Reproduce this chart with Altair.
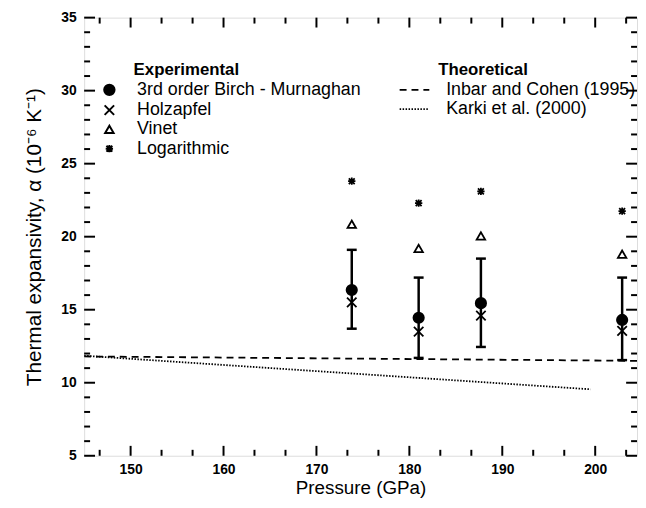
import altair as alt
import pandas as pd

# ---------------- data ----------------
pressure = [173.8, 181.0, 187.7, 202.9]
birch = [16.35, 14.45, 15.45, 14.3]
birch_hi = [19.1, 17.2, 18.5, 17.2]
birch_lo = [13.7, 11.7, 12.45, 11.55]
holzapfel = [15.5, 13.5, 14.6, 13.55]
vinet = [20.85, 19.2, 20.05, 18.8]
logarithmic = [23.8, 22.3, 23.1, 21.75]
methods = ["3rd order Birch - Murnaghan", "Holzapfel", "Vinet", "Logarithmic"]

inbar_p = [145, 204.5]
inbar_a = [11.8, 11.5]
karki_p = [145, 199.5]
karki_a = [11.85, 9.55]
models = ["Inbar and Cohen (1995)", "Karki et al. (2000)"]

headers = ["Experimental", "Theoretical"]

x_major = [150, 160, 170, 180, 190, 200]
x_minor = [146.67, 153.33, 156.67, 163.33, 166.67, 173.33, 176.67,
           183.33, 186.67, 193.33, 196.67, 203.33]
y_major = [5, 10, 15, 20, 25, 30, 35]
y_minor = [6, 7, 8, 9, 11, 12, 13, 14, 16, 17, 18, 19, 21, 22, 23, 24,
           26, 27, 28, 29, 31, 32, 33, 34]

# ---------------- tables ----------------
rows = []
for series, name in zip([birch, holzapfel, vinet, logarithmic], methods):
    for p, a in zip(pressure, series):
        rows.append({"p": p, "a": a, "method": name})
points_df = pd.DataFrame(rows)
err_df = pd.DataFrame({"p": pressure, "lo": birch_lo, "hi": birch_hi})
lines_df = pd.concat([
    pd.DataFrame({"p": inbar_p, "a": inbar_a, "model": models[0]}),
    pd.DataFrame({"p": karki_p, "a": karki_a, "model": models[1]}),
])

W, H = 559, 443
FONT = "Liberation Sans"
X_PATH = "M-1,-1L1,1M-1,1L1,-1"
AST_PATH = "M0,-1L0,1M-0.8,-0.8L0.8,0.8M-0.8,0.8L0.8,-0.8M-1,0L1,0"

xs = alt.Scale(domain=[145, 204.5], nice=False, zero=False)
ys = alt.Scale(domain=[5, 35], nice=False, zero=False)
xaxis = alt.Axis(values=x_major, title="Pressure (GPa)", ticks=False, domain=False,
                 grid=False, labelFont=FONT, labelFontSize=14, labelFontWeight="bold",
                 labelColor="black", labelPadding=7, titleFont=FONT, titleFontSize=19,
                 titleFontWeight="normal", titleColor="black", titlePadding=2)
yaxis = alt.Axis(values=y_major, title="Thermal expansivity, α (10⁻⁶ K⁻¹)", ticks=False,
                 domain=False, grid=False, labelFont=FONT, labelFontSize=14,
                 labelFontWeight="bold", labelColor="black", labelPadding=8,
                 titleFont=FONT, titleFontSize=21, titleFontWeight="normal",
                 titleColor="black", titlePadding=17)

X = lambda f: alt.X(f, type="quantitative", scale=xs, axis=xaxis)
Y = lambda f: alt.Y(f, type="quantitative", scale=ys, axis=yaxis)

exp_legend = alt.Legend(
    title=None, orient="none", legendX=16.5, legendY=64,
    labelFont=FONT, labelFontSize=18, labelColor="black",
    labelOffset=19, rowPadding=1.5, padding=0, symbolStrokeWidth=2, labelLimit=400)
theo_legend = alt.Legend(
    title=None, orient="none", legendX=325, legendY=64,
    labelFont=FONT, labelFontSize=18, labelColor="black",
    labelOffset=23, rowPadding=1.5, padding=0, symbolType="M-3,0H3", symbolSize=100,
    symbolStrokeColor="black", symbolStrokeWidth=1.8, symbolFillColor="transparent",
    labelLimit=400)

# ---------------- layers ----------------
lines = alt.Chart(lines_df).mark_line(stroke="black", strokeWidth=1.8, clip=True).encode(
    x=X("p"), y=Y("a"),
    strokeDash=alt.StrokeDash("model:N", scale=alt.Scale(domain=models, range=[[7, 5], [1.5, 1.5]]),
                              legend=theo_legend),
)

err = alt.Chart(err_df).mark_rule(color="black", strokeWidth=2.5).encode(
    x=X("p"), y=Y("lo"), y2="hi")
cap_lo = alt.Chart(err_df).mark_tick(color="black", orient="horizontal", size=10,
                                     thickness=2.5, opacity=1).encode(x=X("p"), y=Y("lo"))
cap_hi = alt.Chart(err_df).mark_tick(color="black", orient="horizontal", size=10,
                                     thickness=2.5, opacity=1).encode(x=X("p"), y=Y("hi"))

pts = alt.Chart(points_df).mark_point(strokeWidth=1.8, opacity=1).encode(
    x=X("p"), y=Y("a"),
    shape=alt.Shape("method:N", scale=alt.Scale(domain=methods,
                    range=["circle", X_PATH, "triangle-up", AST_PATH]), legend=exp_legend),
    fill=alt.Fill("method:N", scale=alt.Scale(domain=methods,
                  range=["black", "transparent", "transparent", "transparent"]), legend=exp_legend),
    stroke=alt.Stroke("method:N", scale=alt.Scale(domain=methods,
                      range=["black", "black", "black", "black"]), legend=exp_legend),
    size=alt.Size("method:N", scale=alt.Scale(domain=methods, range=[110, 55, 75, 120]),
                  legend=exp_legend),
)

head_df = pd.DataFrame({"h": headers})
head_exp = alt.Chart(head_df).transform_filter(alt.datum.h == headers[0]).mark_text(
    font=FONT, fontSize=17, fontWeight="bold", align="left", baseline="middle",
    color="black").encode(x=alt.value(50), y=alt.value(53), text="h:N")
head_theo = alt.Chart(head_df).transform_filter(alt.datum.h == headers[1]).mark_text(
    font=FONT, fontSize=17, fontWeight="bold", align="left", baseline="middle",
    color="black").encode(x=alt.value(358), y=alt.value(53), text="h:N")

# inward ticks on all four sides
def xticks(vals, ln):
    d = pd.DataFrame({"t": vals})
    b = alt.Chart(d).mark_rule(color="black", strokeWidth=2).encode(
        x=X("t"), y=alt.value(H), y2=alt.value(H - ln))
    t = alt.Chart(d).mark_rule(color="black", strokeWidth=2).encode(
        x=X("t"), y=alt.value(0), y2=alt.value(ln))
    return [b, t]

def yticks(vals, ln):
    d = pd.DataFrame({"t": vals})
    l = alt.Chart(d).mark_rule(color="black", strokeWidth=2).encode(
        y=Y("t"), x=alt.value(0), x2=alt.value(ln))
    r = alt.Chart(d).mark_rule(color="black", strokeWidth=2).encode(
        y=Y("t"), x=alt.value(W), x2=alt.value(W - ln))
    return [l, r]

ticks = xticks(x_major, 10) + xticks(x_minor, 6) + yticks(y_major, 11) + yticks(y_minor, 6)

chart = alt.layer(lines, err, cap_lo, cap_hi, pts, head_exp, head_theo, *ticks).properties(
    width=W, height=H,
    autosize=alt.AutoSizeParams(type="none"),
    padding={"left": 77, "top": 7, "right": 1, "bottom": 42},
).configure_view(stroke="black", strokeWidth=2.5).configure(background="white")

chart.save("out.html", embed_options={"renderer": "svg", "actions": False})
